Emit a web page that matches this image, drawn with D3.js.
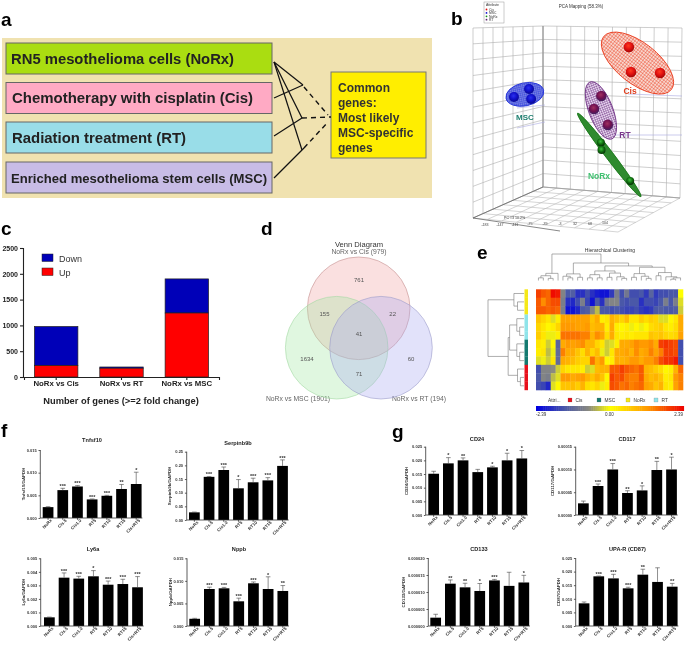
<!DOCTYPE html>
<html><head><meta charset="utf-8">
<script src="https://cdn.jsdelivr.net/npm/d3@7"></script>
<style>
html,body{margin:0;padding:0;background:#fff;}
svg{display:block;font-family:"Liberation Sans",Arial,sans-serif;filter:blur(.3px);}
</style></head><body>
<svg id="c" width="685" height="645"></svg>
<script>
// ---------- data ----------
const panelLetters=["a","b","c","d","e","f","g"];
const schemeLabels=["RN5 mesothelioma cells (NoRx)","Chemotherapy with cisplatin (Cis)","Radiation treatment (RT)","Enriched mesothelioma stem cells (MSC)"];
const commonLabels=["Common","genes:","Most likely","MSC-specific","genes"];

const pcaGroups=["Cis","MSC","NoRx","RT"];
const pcaCis=[[74.6,10.2],[75.6,22.3],[89.5,22.8]];
const pcaMsc=[[19.6,34.5],[26.8,30.6],[27.8,35.4]];
const pcaNoRx=[[61.2,56.5],[61.5,60.2],[75.2,75.2]];
const pcaRt=[[61.4,34],[57.9,40.3],[64.5,48]];
const pcaTicks=["-183","-147","-111","-75","-39","-3","32","68","104"];

const geneCategories=["NoRx vs Cis","NoRx vs RT","NoRx vs MSC"];
const genesUp=[220,170,1240];
const genesDown=[759,24,661];
const genesTicks=[0,500,1000,1500,2000,2500];

const vennSets=["NoRx vs Cis (979)","NoRx vs MSC (1901)","NoRx vs RT (194)"];
const vennCounts=[761,155,22,41,1634,71,60];

const heatAttrs=["Cis","MSC","NoRx","RT"];
const heatValues=[
[1.9,1.7,1.6,2.3,2.2,-.8,-1.5,-1.4,-1.9,-1.9,-1.6,-1.9,-2.1,-2.2,-2.2,-1.8,-.9,-1.6,-1,-1.6,-1.6,-1.5,-1.8,-1.3,-1.8,-1.6,-1.6,-1.5,-1.5,0],
[1.7,1.3,1.6,1.8,1.8,-.9,-1.9,-2,-1.6,-.9,-1.7,-2.2,-1.5,-1.9,-1,-.8,-.8,-1.5,-1.6,-1.5,-1.5,-1.9,-1.6,-1.6,-1.7,-1.5,-.9,-1.5,-.9,-.2],
[1.7,1.7,1.6,1.7,1.6,-.9,-2.2,-2.2,-2,-1.5,-1.4,-.8,-.4,-1.5,-1.5,-1.6,-1.5,-1.6,-1.7,-1.7,-1.6,-1.8,-1.9,-1.8,-1.5,-1.4,-1.5,-1.5,-1.4,-.3],
[.7,.5,.3,-.2,.2,1.1,1.1,1.1,1.1,1.1,1.1,.7,1,.2,.3,.9,.7,.5,.8,.3,.3,.6,.4,.6,.5,-.2,-.2,.1,.3,1],
[.5,.3,.1,.2,.5,1.2,1.2,1.2,1.1,1.1,1.2,.8,.9,.9,.2,1,.2,.1,.2,-.1,.1,-.1,.1,.4,.5,.6,.3,.2,.4,1],
[.6,.3,-.1,-.1,.2,1.5,1.5,1.5,1.5,1.4,1.4,.9,1.3,1.1,.4,1,.3,.2,.3,.2,.3,.3,.3,.7,.6,.7,.5,.4,.5,1.1],
[.3,.2,-.3,.1,-1.3,1,1.2,1.1,1.2,1.3,.9,.9,.5,.3,-.3,-.2,.2,1,1,1.1,1.3,1.2,1.2,1.3,1,1.9,2,1.9,1.8,-1.6],
[.2,.3,-.4,-.1,-1.2,1.4,1,1,.7,.4,.9,.5,.8,-.1,-.3,.3,1,1,1.1,.9,1.3,1,1.1,1.4,1.1,1.4,1.9,1.9,1.8,-1.6],
[-.2,-.1,-.3,.3,-1.2,1,.9,.8,.6,.5,.5,1.5,.9,1.2,.1,.2,1,.9,1,1.2,1.2,1,1.2,1.2,1.4,1.8,2,2,2.2,-1.6],
[-1.6,-.8,-.8,-.7,-.3,.5,.3,.3,.3,.2,-.3,-.2,.8,.9,.9,1.7,1.7,1.9,1.7,1.6,1.5,1.7,.9,.8,.6,.4,.1,.2,.9,1.6],
[-1.5,-.8,-.9,-.4,-.2,1.2,1.2,1,1.1,1.2,.9,.7,1,.7,.1,1.9,1.7,1.8,1.5,1.4,1.4,1.7,1,.8,.9,.7,.2,.3,1.2,1.4],
[-1.6,-1.7,-2,-.2,.1,.7,.7,.8,.6,.9,.4,.3,.5,-.1,.2,1.8,1.7,1.5,1.6,1.4,1.5,1.6,1.1,1,.7,.9,.3,.2,1.1,1.4]];
const heatRowAttr=[2,2,2,3,3,3,1,1,1,0,0,0];
const heatScaleStops=[-2.39,-1.5,-.7,0,1.2,2.39];
// dendrograms: [height, left, right], a number is a leaf
const rowTree=[1,[.28,0,[.18,1,2]],[.44,[.4,[.2,3,[.12,4,5]],[.2,6,[.12,7,8]]],[.18,9,[.1,10,11]]]];
const colTree=[1,[.27,[.18,[.1,0,1],[.08,2,3]],4],[.66,[.25,[.16,5,[.1,6,7]],[.12,8,9]],[.55,[.36,[.22,[.1,10,11],[.1,12,13]],[.28,[.12,14,15],[.14,16,[.08,17,18]]]],[.5,[.26,[.12,19,20],[.16,21,[.08,22,23]]],[.3,[.18,24,25],[.14,26,[.1,[.05,27,28],29]]]]]]];

const treatments=["NoRx","Cis.5","Cis1.0","RT5","RT10","RT15","Cis+RT5"];
const tnfsfV=[.0024,.00615,.00695,.0041,.0049,.0064,.0075];
const tnfsfE=[.0001,.0004,.0002,.0001,.0001,.001,.0026];
const tnfsfS=["","***","***","***","***","**","*"];
const tnfsfT=[0,.005,.01,.015];
const serpinV=[.028,.158,.183,.116,.138,.145,.198];
const serpinE=[.001,.001,.011,.032,.015,.01,.022];
const serpinS=["","***","***","*","***","***","***"];
const serpinT=[0,.05,.1,.15,.2,.25];
const ly6V=[.00064,.00357,.0035,.00367,.00305,.0031,.00286];
const ly6E=[.00002,.00035,.00017,.00042,.00027,.00035,.00079];
const ly6S=["","***","***","*","***","***","***"];
const ly6T=[0,.001,.002,.003,.004,.005];
const nppbV=[.0016,.0082,.00835,.00547,.00946,.0082,.00776];
const nppbE=[.0001,.0004,.0002,.0007,.0003,.0027,.0012];
const nppbS=["","***","***","***","***","*","**"];
const nppbT=[0,.005,.01,.015];
const cd24V=[.0151,.0189,.02,.0157,.01744,.02,.0207];
const cd24E=[.0009,.0021,.0009,.001,.0004,.0026,.0029];
const cd24S=["","*","**","","*","*","*"];
const cd24T=[0,.005,.01,.015,.02,.025];
const cd117V=[.0000256,.0000637,.0001,.0000483,.000054,.0000988,.0001];
const cd117E=[.000005,.0000044,.000013,.000005,.00001,.000019,.000027];
const cd117S=["","***","***","**","*","**","*"];
const cd117T=[0,.00005,.0001,.00015];
const cd133V=[.00000245,.00001245,.00001137,.0000103,.0000134,.0000118,.0000128];
const cd133E=[.000001,.0000011,.0000012,.0000022,.0000003,.000004,.0000021];
const cd133S=["","**","**","*","***","","*"];
const cd133T=[0,.000005,.00001,.000015,.00002];
const upaV=[.00833,.01826,.0175,.01385,.01887,.0162,.01446];
const upaE=[.0005,.0001,.0015,.0004,.002,.0052,.0012];
const upaS=["","***","***","***","**","","**"];
const upaT=[0,.005,.01,.015,.02,.025];

// ---------- helpers ----------
const svg=d3.select("#c");
const defs=svg.append("defs");
function txt(g,x,y,s,o={}){
  const t=g.append("text").attr("x",x).attr("y",y).text(s)
    .attr("font-size",o.size||8).attr("fill",o.fill||"#111")
    .attr("text-anchor",o.anchor||"start");
  if(o.bold)t.attr("font-weight","bold");
  if(o.op)t.attr("opacity",o.op);
  if(o.rotate)t.attr("transform",`rotate(${o.rotate} ${x} ${y})`);
  if(o.len)t.attr("textLength",o.len).attr("lengthAdjust","spacingAndGlyphs");
  return t;
}
const line=(g,x1,y1,x2,y2,c,w,d)=>g.append("line").attr("x1",x1).attr("y1",y1).attr("x2",x2).attr("y2",y2)
  .attr("stroke",c).attr("stroke-width",w).attr("stroke-dasharray",d||null);

// panel letters
const letterPos=[[1,26],[451,25],[1,235],[261,235],[477,259],[1,437],[392,438]];
panelLetters.forEach((l,i)=>txt(svg,letterPos[i][0],letterPos[i][1],l,{size:19,bold:true,fill:"#000"}));

// ---------- a ----------
{
 const g=svg.append("g");
 g.append("rect").attr("x",2).attr("y",38).attr("width",430).attr("height",160).attr("fill","#f0e2b0");
 const ys=[43,82.5,122,162], cols=["#aadd11","#ffaac4","#99dde8","#c8bce6"], lens=[223,241,174,256], tx=[11,12,12,11], sizes=[14,14,14,12.4];
 schemeLabels.forEach((s,i)=>{
  g.append("rect").attr("x",6).attr("y",ys[i]).attr("width",266).attr("height",31).attr("fill",cols[i]).attr("stroke","#666").attr("stroke-width",1);
  txt(g,tx[i],ys[i]+20.5,s,{size:sizes[i],bold:true,fill:"#222",len:lens[i]});
 });
 g.append("rect").attr("x",331).attr("y",72).attr("width",95).attr("height",86).attr("fill","#ffee00").attr("stroke","#777");
 commonLabels.forEach((s,i)=>txt(g,338,92+i*14.9,s,{size:12,bold:true,fill:"#333"}));
 [[274,62,303,85],[274,62,302,118],[274,62,302,150],[274,98,303,85],[274,136,302,118],[274,178,304,148]].forEach(p=>line(g,p[0],p[1],p[2],p[3],"#111",1.2));
 [[304,87,328,115],[302,118,331,117],[304,148,328,122]].forEach(p=>line(g,p[0],p[1],p[2],p[3],"#111",1.4,"5 4"));
}

// ---------- b ----------
{
 const g=svg.append("g");
 const px=d3.scaleLinear([0,100],[473,682]), py=d3.scaleLinear([0,100],[26,232]);
 const lerp=(a,b,t)=>[a[0]+(b[0]-a[0])*t,a[1]+(b[1]-a[1])*t];
 const grid=(A,B,C,D,n,m,c)=>{
  d3.range(n+1).forEach(i=>{const t=i/n,p=lerp(A,B,t),q=lerp(D,C,t);line(g,p[0],p[1],q[0],q[1],c,.6);});
  d3.range(m+1).forEach(i=>{const t=i/m,p=lerp(A,D,t),q=lerp(B,C,t);line(g,p[0],p[1],q[0],q[1],c,.6);});
 };
 const TL=[473,28],CT=[543,26],TR=[682,28],BL=[473,218],CB=[543,187],BR=[680,198],FR=[618,232];
 grid(TL,CT,CB,BL,7,12,"#adadad");
 grid(CT,TR,BR,CB,10,12,"#adadad");
 grid(BL,CB,BR,FR,7,10,"#b8b8b8");
 line(g,543,26,543,187,"#888",.8);line(g,473,218,543,187,"#666",.8);line(g,543,187,680,198,"#999",.7);
 line(g,473,218,560,231,"#555",.7);
 // faint guide lines on the walls
 [[517,108,545,105],[517,128,545,122],[612,135,682,135],[628,94,682,96]].forEach(p=>line(g,p[0],p[1],p[2],p[3],"#a9a9e0",.6));

 txt(g,581,8,"PCA Mapping (58.3%)",{size:4.5,anchor:"middle",fill:"#333"});
 g.append("rect").attr("x",484).attr("y",2).attr("width",20).attr("height",21).attr("fill","#fff").attr("stroke","#999").attr("stroke-width",.5);
 txt(g,486,6,"Attribute",{size:3.5,fill:"#333"});
 const pcaCols=["#e01010","#1010d0","#109010","#602070"];
 pcaGroups.forEach((s,i)=>{
  g.append("circle").attr("cx",486.5).attr("cy",9.5+i*3.4).attr("r",.9).attr("fill",pcaCols[i]);
  txt(g,489,10.7+i*3.4,s,{size:3.4,fill:"#333"});
 });
 txt(g,504,219,"PC #3 10.2%",{size:3.6,fill:"#333"});
 pcaTicks.forEach((s,i)=>txt(g,485+i*15,226-i*.2,s,{size:3.6,fill:"#444",anchor:"middle"}));

 // meshes
 const mesh=(id,c,size)=>{
  const p=defs.append("pattern").attr("id",id).attr("width",size).attr("height",size).attr("patternUnits","userSpaceOnUse");
  p.append("path").attr("d",`M0 0H${size}M0 0V${size}`).attr("stroke",c).attr("stroke-width",.7).attr("fill","none");
 };
 mesh("mCis","#e83010",2.6);mesh("mRt","#6a2a80",2.2);mesh("mMsc","#1a2ad8",2);
 const ellipses=[
  {c:[78.7,18],rx:43,ry:20.5,a:38,fill:"url(#mCis)",bg:"#f8d8d0",st:"#e83010"},
  {c:[61.2,41],rx:30.5,ry:12,a:69,fill:"url(#mRt)",bg:"#e4d4ec",st:"#6a2a80"},
  {c:[24.8,33.2],rx:19.2,ry:11.5,a:-12,fill:"url(#mMsc)",bg:"#7f88e4",st:"#1a2ad8"},
  {c:[65.2,62.6],rx:52.4,ry:4,a:52.8,fill:"#2f8a2f",bg:"#2f8a2f",st:"#1e7a1e"}];
 ellipses.forEach(e=>{
  const cx=px(e.c[0]),cy=py(e.c[1]);
  const tr=`rotate(${e.a} ${cx} ${cy})`;
  g.append("ellipse").attr("cx",cx).attr("cy",cy).attr("rx",e.rx).attr("ry",e.ry).attr("transform",tr).attr("fill",e.bg);
  g.append("ellipse").attr("cx",cx).attr("cy",cy).attr("rx",e.rx).attr("ry",e.ry).attr("transform",tr).attr("fill",e.fill).attr("stroke",e.st).attr("stroke-width",.8);
 });
 const grad=(id,a,b,c)=>{
  const r=defs.append("radialGradient").attr("id",id).attr("cx","45%").attr("cy","38%").attr("r","62%");
  r.append("stop").attr("offset","0%").attr("stop-color",a);
  r.append("stop").attr("offset","55%").attr("stop-color",b);
  r.append("stop").attr("offset","100%").attr("stop-color",c);
 };
 grad("sCis","#ff3a20","#e01010","#a00808");
 grad("sRt","#a03060","#701050","#402060");
 grad("sMsc","#2a30f0","#1010c8","#0a0a90");
 grad("sNo","#40c040","#107010","#063006");
 [[pcaCis,"sCis",5.3],[pcaRt,"sRt",5.3],[pcaMsc,"sMsc",5],[pcaNoRx,"sNo",4]].forEach(s=>{
  g.selectAll(null).data(s[0]).join("circle").attr("cx",d=>px(d[0])).attr("cy",d=>py(d[1])).attr("r",s[2]).attr("fill",`url(#${s[1]})`);
 });
 txt(g,630,94,"Cis",{size:8.5,bold:true,fill:"#e04020",anchor:"middle"});
 txt(g,625,138,"RT",{size:8.5,bold:true,fill:"#7a3a8a",anchor:"middle"});
 txt(g,525,120,"MSC",{size:8,bold:true,fill:"#1f7f70",anchor:"middle"});
 txt(g,599,179,"NoRx",{size:8.5,bold:true,fill:"#40c070",anchor:"middle"});
}

// ---------- c ----------
{
 const g=svg.append("g");
 const x=d3.scaleBand().domain(geneCategories).range([24,219]).paddingInner(.335).paddingOuter(.16);
 const y=d3.scaleLinear([0,2500],[377,248]);
 const b=g.selectAll(null).data(geneCategories).join("g");
 b.append("rect").attr("x",d=>x(d)).attr("width",x.bandwidth()).attr("y",(d,i)=>y(genesUp[i]+genesDown[i])).attr("height",(d,i)=>y(0)-y(genesDown[i])).attr("fill","#0000b8").attr("stroke","#222").attr("stroke-width",.7);
 b.append("rect").attr("x",d=>x(d)).attr("width",x.bandwidth()).attr("y",(d,i)=>y(genesUp[i])).attr("height",(d,i)=>y(0)-y(genesUp[i])).attr("fill","#ff0000").attr("stroke","#222").attr("stroke-width",.7);
 const ax=g.append("g").attr("transform","translate(0,377)").call(d3.axisBottom(x).tickSize(3));
 const ay=g.append("g").attr("transform","translate(23,0)").call(d3.axisLeft(y).tickValues(genesTicks).tickFormat(d3.format("d")).tickSize(3));
 [ax,ay].forEach(a=>{a.selectAll("path,line").attr("stroke","#222").attr("stroke-width",1.1);a.selectAll("text").attr("font-size",7).attr("font-weight","bold").attr("font-family","Liberation Sans").attr("fill","#222");});
 ay.selectAll("text").attr("dx",1);
 ax.selectAll("text").attr("dy",3).attr("font-size",7.8);
 [["Down",42,254,"#0000b8"],["Up",42,268,"#ff0000"]].forEach(l=>{
  g.append("rect").attr("x",l[1]).attr("y",l[2]).attr("width",11).attr("height",7.5).attr("fill",l[3]).attr("stroke","#222").attr("stroke-width",.5);
  txt(g,59,l[2]+7.5,l[0],{size:9,fill:"#333"});
 });
 txt(g,121,404,"Number of genes (>=2 fold change)",{size:9.3,bold:true,anchor:"middle",fill:"#222"});
}

// ---------- d ----------
{
 const g=svg.append("g");
 txt(g,359,247,"Venn Diagram",{size:7.6,anchor:"middle",fill:"#333"});
 txt(g,359,254,vennSets[0],{size:6.8,anchor:"middle",fill:"#666"});
 txt(g,298,401,vennSets[1],{size:6.8,anchor:"middle",fill:"#666"});
 txt(g,419,401,vennSets[2],{size:6.8,anchor:"middle",fill:"#666"});
 [[358.7,308.3,"#f0a0a0","#c08888"],[336.7,347.7,"#a0e8a0","#a0d8a0"],[381,347.7,"#a8a8f0","#9898c8"]].forEach(c=>{
  g.append("circle").attr("cx",c[0]).attr("cy",c[1]).attr("r",51.3).attr("fill",c[2]).attr("fill-opacity",.33).attr("stroke",c[3]).attr("stroke-width",.7).attr("stroke-opacity",.8);
 });
 const pos=[[359,282],[324.5,316],[392.7,316],[359,336],[307,361],[359,376],[411,361]];
 vennCounts.forEach((v,i)=>txt(g,pos[i][0],pos[i][1],v,{size:6,anchor:"middle",fill:"#555"}));
}

// ---------- e ----------
{
 const g=svg.append("g");
 const col=d3.scaleLinear().domain(heatScaleStops).range(["#0000e0","#4a58a8","#8a8a80","#ffff00","#ff9a00","#ee0000"]).clamp(true);
 const x=d3.scaleBand().domain(d3.range(30)).range([536,683]);
 const y=d3.scaleBand().domain(d3.range(12)).range([289.3,390]);
 heatValues.forEach((r,i)=>g.selectAll(null).data(r).join("rect").attr("x",(d,j)=>x(j)).attr("y",y(i)).attr("width",x.bandwidth()+.3).attr("height",y.bandwidth()+.3).attr("fill",d=>col(d)));
 const attrCols=["#e8101c","#147a70","#f5e818","#8fe4ea"];
 heatRowAttr.forEach((a,i)=>g.append("rect").attr("x",524.5).attr("y",y(i)).attr("width",3.5).attr("height",y.bandwidth()+.2).attr("fill",attrCols[a]));
 const stroke="#777";
 // dendrograms
 const drawTree=(t,pos,h)=>{
  const rec=n=>{
   if(typeof n==="number")return {p:pos(n),v:0};
   const a=rec(n[1]),b=rec(n[2]);
   const hh=h(n[0]), la=h(a.v), lb=h(b.v);
   g.append("path").attr("d",t==="col"
     ?`M${a.p} ${la}V${hh}H${b.p}V${lb}`
     :`M${la} ${a.p}H${hh}V${b.p}H${lb}`).attr("fill","none").attr("stroke",stroke).attr("stroke-width",.6);
   return {p:(a.p+b.p)/2,v:n[0]};
  };
  return rec;
 };
 drawTree("row",i=>y(i)+y.bandwidth()/2,d3.scaleLinear([0,1],[524,488]))(rowTree);
 drawTree("col",j=>x(j)+x.bandwidth()/2,d3.scaleLinear([0,1],[280.5,254]))(colTree);
 txt(g,610,252,"Hierarchical Clustering",{size:5,anchor:"middle",fill:"#333"});
 txt(g,548,402,"Attri...",{size:4.8,anchor:"start",fill:"#333"});
 const lg=[["Cis",568,attrCols[0]],["MSC",597,attrCols[1]],["NoRx",626,"#f5e818"],["RT",654,attrCols[3]]];
 lg.forEach(l=>{
  g.append("rect").attr("x",l[1]).attr("y",398).attr("width",4).attr("height",4).attr("fill",l[2]).attr("stroke","#666").attr("stroke-width",.2);
  txt(g,l[1]+7.5,402,l[0],{size:4.8,fill:"#333"});
 });
 const bar=d3.scaleLinear([-2.39,2.39],[536,683]);
 d3.range(-2.39,2.39,.06).forEach(v=>g.append("rect").attr("x",bar(v)).attr("y",406).attr("width",2.3).attr("height",5).attr("fill",col(v)));
 txt(g,536,416,"-2.39",{size:4.5,fill:"#333"});
 txt(g,609.5,416,"0.00",{size:4.5,anchor:"middle",fill:"#333"});
 txt(g,683,416,"2.39",{size:4.5,anchor:"end",fill:"#333"});
}

// ---------- f / g ----------
function barPanel(o){
 const g=svg.append("g");
 const top=o.ticks[o.ticks.length-1];
 const y=d3.scaleLinear([0,top],[o.y0,o.yt]);
 const x=d3.scaleBand().domain(treatments).range([o.bx-1.9,o.bx-1.9+14.67*7]).paddingInner(.27).paddingOuter(.13);
 g.selectAll(null).data(o.v).join("rect").attr("x",(d,i)=>x(treatments[i])).attr("width",x.bandwidth())
  .attr("y",d=>y(d)).attr("height",d=>o.y0-y(d)).attr("fill","#000");
 g.selectAll(null).data(o.v).join("path")
  .attr("d",(d,i)=>{const c=x(treatments[i])+x.bandwidth()/2,t=y(d+o.e[i]);return `M${c} ${y(d)}V${t}M${c-2.3} ${t}H${c+2.3}`;})
  .attr("stroke","#444").attr("stroke-width",.6).attr("fill","none");
 g.selectAll(null).data(o.s).join("text").attr("text-anchor","middle").attr("font-size",5.5).attr("font-weight","bold").attr("fill","#333")
  .attr("x",(d,i)=>x(treatments[i])+x.bandwidth()/2).attr("y",(d,i)=>y(o.v[i]+o.e[i])-.2).text(d=>d);
 const ay=g.append("g").attr("transform",`translate(${o.ax},0)`).call(d3.axisLeft(y).tickValues(o.ticks).tickFormat(d3.format(o.fmt)).tickSize(1.8));
 ay.select(".domain").attr("d",`M0 ${o.yt}V${o.y0}`);
 const ax=g.append("g").attr("transform",`translate(0,${o.y0})`).call(d3.axisBottom(x).tickSize(1.8));
 ax.select(".domain").attr("d",`M${o.ax} 0H${o.bx+14.67*7-3}`);
 [ax,ay].forEach(a=>{a.selectAll("path,line").attr("stroke","#333").attr("stroke-width",.8);});
 ay.selectAll("text").attr("font-size",4).attr("font-weight","bold").attr("font-family","Liberation Sans").attr("fill","#333").attr("dx",1.2);
 ax.selectAll("text").attr("font-size",4.4).attr("font-weight","bold").attr("font-family","Liberation Sans").attr("fill","#333")
   .attr("text-anchor","end").attr("dy",0).attr("y",5).attr("x",1).attr("transform","rotate(-45)");
 txt(g,o.tx,o.ty,o.title,{size:5.6,bold:true,anchor:"middle",fill:"#222"});
 txt(g,o.lx,(o.y0+o.yt)/2,o.yl,{size:4.4,bold:true,anchor:"middle",fill:"#333",rotate:-90});
}
const B=(title,v,e,s,ticks,fmt,ax,bx,y0,yt,tx,ty,lx,yl)=>barPanel({title,v,e,s,ticks,fmt,ax,bx,y0,yt,tx,ty,lx,yl});
B("Tnfsf10",tnfsfV,tnfsfE,tnfsfS,tnfsfT,".3f",40.3,42.7,518,450,92,442,25,"Tnfsf10/GAPDH");
B("Serpinb9b",serpinV,serpinE,serpinS,serpinT,".2f",186.7,189,520,451.7,238,445,171,"Serpinb9b/GAPDH");
B("Ly6a",ly6V,ly6E,ly6S,ly6T,".3f",40.7,44,626,558.3,93,551,25,"Ly6a/GAPDH");
B("Nppb",nppbV,nppbE,nppbS,nppbT,".3f",187,189.3,626,558.3,239,551,172,"Nppb/GAPDH");
B("CD24",cd24V,cd24E,cd24S,cd24T,".3f",425.7,428.3,515,446.7,477,441,408,"CD24/GAPDH");
B("CD117",cd117V,cd117E,cd117S,cd117T,".5f",575.7,578,515,446.7,627,441,554,"CD117/GAPDH");
B("CD133",cd133V,cd133E,cd133S,cd133T,".6f",428.3,430.3,626,558,479,551,405,"CD133/GAPDH");
B("UPA-R (CD87)",upaV,upaE,upaS,upaT,".3f",575.7,578.7,626,558,627.5,551,560,"CD87/GAPDH");
</script>
</body></html>
